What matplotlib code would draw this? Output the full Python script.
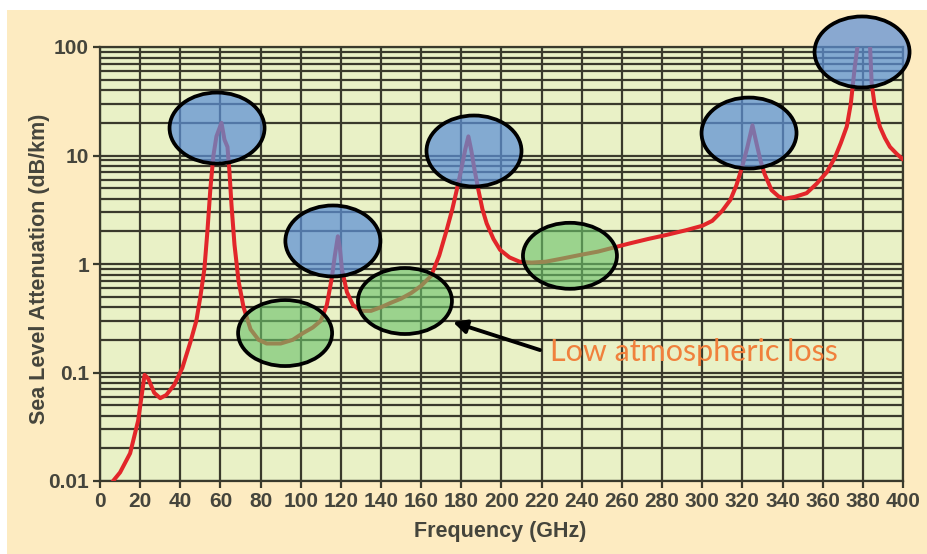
import matplotlib
matplotlib.use("Agg")
import matplotlib.pyplot as plt
from matplotlib.patches import Ellipse, Rectangle
import numpy as np

# attenuation curve (GHz, dB/km)
freq = [6.5, 10, 15, 19, 22.2, 24, 27, 30, 33, 37, 41, 45, 48, 50, 52, 53.5,
        55, 56.5, 58, 60.5, 62, 63.5, 64.5, 65.5, 67, 69, 71.5, 75, 79, 83,
        90, 96, 101, 106, 110, 113, 115.5, 117, 118.5, 119.5, 120.5, 123, 126,
        130, 135, 140, 145, 150, 155, 160, 165, 169, 172.5, 175.5, 177.7, 180,
        182, 183.5, 185, 186.5, 188.5, 190.5, 192.6, 196, 199.3, 204, 209, 215,
        222, 230, 239, 248, 256, 264, 273, 282, 292, 300, 305, 310, 314, 317,
        320, 322.5, 325, 327, 329, 331, 334.5, 338, 341, 346, 352, 357, 362,
        366, 369, 372, 374, 376, 377.3, 380, 383.6, 384.4, 386, 388.5, 391,
        393.5, 397, 400]
atten = [0.01, 0.012, 0.018, 0.036, 0.095, 0.088, 0.065, 0.058, 0.062, 0.077,
         0.11, 0.19, 0.3, 0.5, 0.9, 2.0, 5.0, 10, 15, 20, 14, 12, 7, 3.5, 1.5,
         0.7, 0.4, 0.25, 0.2, 0.185, 0.185, 0.2, 0.23, 0.26, 0.3, 0.42, 0.75,
         1.2, 1.8, 1.4, 0.9, 0.55, 0.42, 0.37, 0.37, 0.40, 0.44, 0.48, 0.54,
         0.63, 0.78, 1.2, 2.0, 3.2, 4.8, 7.5, 11.5, 15, 11, 7.5, 4.8, 3.2, 2.37,
         1.7, 1.35, 1.15, 1.05, 1.03, 1.05, 1.12, 1.21, 1.3, 1.42, 1.55, 1.7,
         1.85, 2.05, 2.25, 2.5, 3.1, 3.9, 5.3, 8, 12, 19, 13, 9, 6.8, 4.8, 4.2,
         4.0, 4.15, 4.5, 5.5, 7, 9.5, 13, 18.5, 30, 66, 100, 250, 100, 46, 28,
         18.4, 14.5, 12, 10.3, 9.2]

# highlighted regions: centre (GHz, dB/km) and kind
blob_f = [58.3, 116, 186.3, 323.3, 379.6, 92.2, 151.9, 234.1]
blob_a = [17.9, 1.63, 11.0, 16.1, 90, 0.231, 0.456, 1.19]
blob_kind = ["peak", "peak", "peak", "peak", "peak", "window", "window", "window"]

xticks = list(range(0, 401, 20))
yticks = [0.01, 0.1, 1, 10, 100]
ylabels = ["0.01", "0.1", "1", "10", "100"]

ink = "#3a3a2c"
txt = "#45453c"

fig = plt.figure(figsize=(9.27, 5.54), dpi=100, facecolor="white")
fig.patches.append(Rectangle((7 / 927, 0), 1, 1 - 10 / 554, transform=fig.transFigure,
                             facecolor="#FDEBC1", edgecolor="none", zorder=-10))
ax = fig.add_axes([100 / 927, 1 - 481 / 554, 803 / 927, 434 / 554])
ax.set_facecolor("#E9F1C6")

ax.plot(freq, atten, color="#E2262A", lw=2.9, zorder=3, solid_capstyle="round",
        solid_joinstyle="round")
ax.set_yscale("log")
ax.set_xlim(0, 400)
ax.set_ylim(0.01, 100)

ax.set_xticks(xticks)
ax.set_yticks(yticks)
ax.set_yticklabels(ylabels)
ax.tick_params(which="major", direction="out", length=5, width=1.6, color=ink,
               labelsize=15, labelcolor=txt, pad=3)
ax.tick_params(which="minor", length=0)
for lab in ax.get_xticklabels() + ax.get_yticklabels():
    lab.set_fontfamily("Liberation Sans")
    lab.set_fontweight("bold")

ax.grid(which="both", axis="y", color=ink, lw=1.6, zorder=1)
ax.grid(which="major", axis="x", color=ink, lw=1.6, zorder=1)
ax.set_axisbelow(True)
for s in ax.spines.values():
    s.set_color(ink)
    s.set_linewidth(1.6)

ax.set_xlabel("Frequency (GHz)", fontsize=15.5, color=txt, family="Liberation Sans",
              fontweight="bold")
ax.set_ylabel("Sea Level Attenuation (dB/km)", fontsize=15.5, color=txt,
              family="Liberation Sans", fontweight="bold")
ax.xaxis.set_label_coords(0.498, -0.092)
ax.yaxis.set_label_coords(-0.062, 0.49)

# ellipses, sized in pixels, placed in axes fraction
for f, a, k in zip(blob_f, blob_a, blob_kind):
    cx = f / 400
    cy = (np.log10(a) + 2) / 4
    if k == "peak":
        fc, w, h = (0.36, 0.56, 0.84, 0.72), 95, 71
    else:
        fc, w, h = (0.42, 0.76, 0.42, 0.62), 94, 66
    ax.add_patch(Ellipse((cx, cy), w / 803, h / 434, transform=ax.transAxes,
                         facecolor=fc, edgecolor="black", lw=2.7, zorder=4,
                         clip_on=False))

ax.annotate("", xy=(175.8, 0.292), xytext=(219.2, 0.161),
            arrowprops=dict(arrowstyle="-|>", color="black", lw=2.8,
                            mutation_scale=20, shrinkA=0, shrinkB=0), zorder=5)
ax.text(224, 0.155, "Low atmospheric loss", color="#F0803C", fontsize=22,
        family="Lato", va="center", ha="left", zorder=5)

fig.savefig("out.png", dpi=100, facecolor=fig.get_facecolor())
